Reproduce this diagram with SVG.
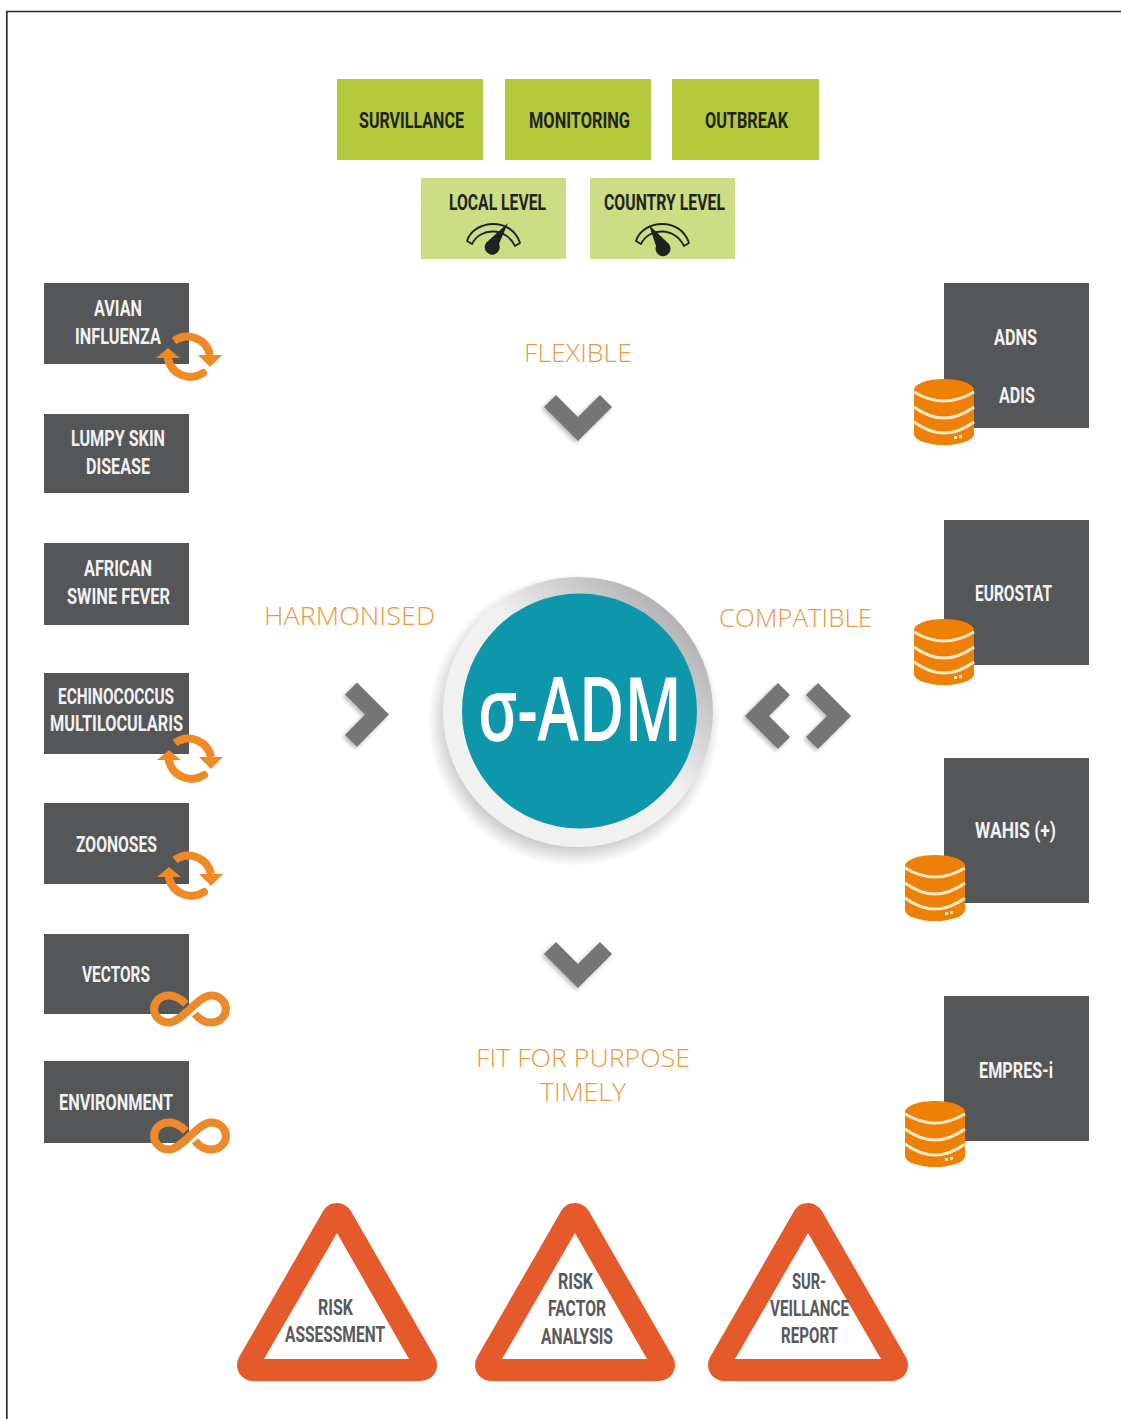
<svg xmlns="http://www.w3.org/2000/svg" width="1121" height="1419" viewBox="0 0 1121 1419">
<style>
.l{font-family:Roboto,"Liberation Sans",sans-serif;font-weight:700}
.k{fill:#1f2320;font-size:22px}
.w{fill:#f2f2f2;font-size:22px}
.g{fill:#58595b;font-size:22px}
.o{font-family:"Open Sans","Liberation Sans",sans-serif;font-weight:300;fill:#ec9a3e;font-size:26px}
.d{fill:#555658}.a{fill:#b4ca3c}.b{fill:#cddd85}
.tri{fill:#e55a2b;stroke:#e55a2b;stroke-width:32;stroke-linejoin:round}
.chev{fill:none;stroke:#757577;stroke-width:17;stroke-linejoin:miter}
</style>
<defs>
<radialGradient id="sh" cx="50%" cy="50%" r="50%"><stop offset="0.8" stop-color="#888" stop-opacity=".65"/><stop offset="1" stop-color="#888" stop-opacity="0"/></radialGradient>
<linearGradient id="ring" x1="0.15" y1="0.85" x2="0.85" y2="0.15"><stop offset="0.55" stop-color="#f1f1f2"/><stop offset="1" stop-color="#b4b4b6"/></linearGradient>
<filter id="soft" x="-30%" y="-30%" width="160%" height="160%"><feDropShadow dx="-2" dy="2" stdDeviation="2" flood-color="#000" flood-opacity=".28"/></filter>
<path id="gauge" d="M-27 0C-20-22 18-24 26 2L21 5C12-14-14-14-22 3Z" fill="none" stroke="#1f2320" stroke-width="1.8" stroke-linejoin="round"/>
<g id="refresh">
<path d="M-14-16A23 23 0 0 1 22-2" fill="none" stroke="#ef8a24" stroke-width="8"/>
<path d="M10-2L34-2L22 10Z" fill="#ef8a24"/>
<path d="M15 16A23 23 0 0 1-20 2" fill="none" stroke="#ef8a24" stroke-width="8" stroke-linecap="round"/>
<path d="M-32 1L-8 1L-20-9Z" fill="#ef8a24"/>
</g>
<path id="inf" d="M-4-5C-9-10-14-13.500-21-13.500C-30-13.500-36-7-36 0C-36 7-30 13.500-21 13.500C-8 13.500 8-13.500 21-13.500C30-13.500 36-7 36 0C36 7 30 13.500 21 13.500C14 13.500 9 10 5 5" fill="none" stroke="#ea8a2b" stroke-width="8"/>
<g id="db">
<path d="M0 11A30 11 0 0 1 60 11V55A30 11 0 0 1 0 55Z" fill="#ee8105"/>
<path d="M0 13Q30 31 60 13M0 28Q30 50 60 28M0 43Q30 65 60 43" fill="none" stroke="#fde9c8" stroke-width="3"/>
<path d="M40 57h3v3h-3zM45 56h3v3h-3z" fill="#fde9c8"/>
</g>
</defs>
<rect x="0" y="0" width="1121" height="1419" fill="#fff"/>
<path d="M6.800 1419V11.500H1121" fill="none" stroke="#2a2a2a" stroke-width="1.700"/>

<g id="surveillance"><rect class="a" x="337" y="79" width="146" height="81"/><text class="l k" x="359" y="128" textLength="105" lengthAdjust="spacingAndGlyphs">SURVILLANCE</text></g>
<g id="monitoring"><rect class="a" x="505" y="79" width="146" height="81"/><text class="l k" x="529" y="128" textLength="101" lengthAdjust="spacingAndGlyphs">MONITORING</text></g>
<g id="outbreak"><rect class="a" x="672" y="79" width="147" height="81"/><text class="l k" x="705" y="128" textLength="83" lengthAdjust="spacingAndGlyphs">OUTBREAK</text></g>
<g id="local-level"><rect class="b" x="421" y="178" width="145" height="81"/><text class="l k" x="449" y="210" textLength="97" lengthAdjust="spacingAndGlyphs">LOCAL LEVEL</text>
<use href="#gauge" x="494" y="241"/><path d="M508 223L499 244A7.500 7.500 0 1 1 488 241Z" fill="#1f2320"/></g>
<g id="country-level"><rect class="b" x="590" y="178" width="145" height="81"/><text class="l k" x="604" y="210" textLength="121" lengthAdjust="spacingAndGlyphs">COUNTRY LEVEL</text>
<use href="#gauge" x="663" y="241"/><path d="M649 225L668 243A7.500 7.500 0 1 1 656 246Z" fill="#1f2320"/></g>

<g id="avian-influenza"><rect class="d" x="44" y="283" width="145" height="81"/><text class="l w" x="94" y="316" textLength="48" lengthAdjust="spacingAndGlyphs">AVIAN</text><text class="l w" x="75" y="344" textLength="86" lengthAdjust="spacingAndGlyphs">INFLUENZA</text><use href="#refresh" x="188" y="357"/></g>
<g id="lumpy-skin-disease"><rect class="d" x="44" y="414" width="145" height="79"/><text class="l w" x="71" y="446" textLength="94" lengthAdjust="spacingAndGlyphs">LUMPY SKIN</text><text class="l w" x="86" y="474" textLength="64" lengthAdjust="spacingAndGlyphs">DISEASE</text></g>
<g id="african-swine-fever"><rect class="d" x="44" y="543" width="145" height="82"/><text class="l w" x="84" y="576" textLength="68" lengthAdjust="spacingAndGlyphs">AFRICAN</text><text class="l w" x="67" y="604" textLength="103" lengthAdjust="spacingAndGlyphs">SWINE FEVER</text></g>
<g id="echinococcus"><rect class="d" x="44" y="673" width="145" height="81"/><text class="l w" x="58" y="704" textLength="116" lengthAdjust="spacingAndGlyphs">ECHINOCOCCUS</text><text class="l w" x="50" y="731" textLength="133" lengthAdjust="spacingAndGlyphs">MULTILOCULARIS</text><use href="#refresh" x="189" y="759"/></g>
<g id="zoonoses"><rect class="d" x="44" y="803" width="145" height="81"/><text class="l w" x="76" y="852" textLength="81" lengthAdjust="spacingAndGlyphs">ZOONOSES</text><use href="#refresh" x="189" y="876"/></g>
<g id="vectors"><rect class="d" x="44" y="934" width="145" height="80"/><text class="l w" x="82" y="982" textLength="68" lengthAdjust="spacingAndGlyphs">VECTORS</text><use href="#inf" x="190" y="1009"/></g>
<g id="environment"><rect class="d" x="44" y="1061" width="145" height="82"/><text class="l w" x="59" y="1110" textLength="114" lengthAdjust="spacingAndGlyphs">ENVIRONMENT</text><use href="#inf" x="190" y="1136"/></g>

<g id="adns-adis"><rect class="d" x="944" y="283" width="145" height="145"/><text class="l w" x="994" y="345" textLength="43" lengthAdjust="spacingAndGlyphs">ADNS</text><text class="l w" x="999" y="403" textLength="36" lengthAdjust="spacingAndGlyphs">ADIS</text><use href="#db" x="914" y="379"/></g>
<g id="eurostat"><rect class="d" x="944" y="520" width="145" height="145"/><text class="l w" x="975" y="601" textLength="77" lengthAdjust="spacingAndGlyphs">EUROSTAT</text><use href="#db" x="914" y="619"/></g>
<g id="wahis"><rect class="d" x="944" y="758" width="145" height="145"/><text class="l w" x="975" y="838" textLength="81" lengthAdjust="spacingAndGlyphs">WAHIS (+)</text><use href="#db" x="905" y="855"/></g>
<g id="empres-i"><rect class="d" x="944" y="996" width="145" height="145"/><text class="l w" x="979" y="1078" textLength="74" lengthAdjust="spacingAndGlyphs">EMPRES-i</text><use href="#db" x="905" y="1101"/></g>

<g id="sigma-adm">
<circle cx="574" cy="720" r="146" fill="url(#sh)"/>
<circle cx="578" cy="712" r="135" fill="url(#ring)"/>
<circle cx="579.500" cy="711" r="117.500" fill="#0e96ab"/>
<text x="478" y="741" font-family="Open Sans, Liberation Sans, sans-serif" font-size="88" font-weight="600" fill="#fff" textLength="204" lengthAdjust="spacingAndGlyphs">σ-ADM</text>
</g>

<g id="label-flexible"><text class="o" x="524" y="362" textLength="108" lengthAdjust="spacingAndGlyphs">FLEXIBLE</text></g>
<g id="label-harmonised"><text class="o" x="264" y="625" textLength="171" lengthAdjust="spacingAndGlyphs">HARMONISED</text></g>
<g id="label-compatible"><text class="o" x="719" y="627" textLength="153" lengthAdjust="spacingAndGlyphs">COMPATIBLE</text></g>
<g id="label-fit"><text class="o" x="476" y="1067" textLength="214" lengthAdjust="spacingAndGlyphs">FIT FOR PURPOSE</text><text class="o" x="540" y="1101" textLength="86" lengthAdjust="spacingAndGlyphs">TIMELY</text></g>

<g id="connectors" filter="url(#soft)">
<path class="chev" d="M550 401L578 429L606 401"/>
<path class="chev" d="M550 948L578 976L606 948"/>
<path class="chev" d="M351 688.500L377 714.500L351 741"/>
<path class="chev" d="M784 689L757 716L784 743"/>
<path class="chev" d="M812 689L839 716L812 743"/>
</g>

<g id="risk-assessment"><path class="tri" d="M337 1219L421 1365H253Z"/><path d="M337 1233L409 1359H264Z" fill="#fff"/><text class="l g" x="318" y="1315" textLength="35" lengthAdjust="spacingAndGlyphs">RISK</text><text class="l g" x="285" y="1342" textLength="100" lengthAdjust="spacingAndGlyphs">ASSESSMENT</text></g>
<g id="risk-factor-analysis"><path class="tri" d="M575 1219L659 1365H491Z"/><path d="M575 1233L647 1359H502Z" fill="#fff"/><text class="l g" x="558" y="1289" textLength="35" lengthAdjust="spacingAndGlyphs">RISK</text><text class="l g" x="548" y="1316" textLength="58" lengthAdjust="spacingAndGlyphs">FACTOR</text><text class="l g" x="541" y="1344" textLength="72" lengthAdjust="spacingAndGlyphs">ANALYSIS</text></g>
<g id="surveillance-report"><path class="tri" d="M808 1219L892 1365H724Z"/><path d="M808 1233L881 1359H735Z" fill="#fff"/><text class="l g" x="792" y="1289" textLength="34" lengthAdjust="spacingAndGlyphs">SUR-</text><text class="l g" x="770" y="1316" textLength="79" lengthAdjust="spacingAndGlyphs">VEILLANCE</text><text class="l g" x="781" y="1343" textLength="57" lengthAdjust="spacingAndGlyphs">REPORT</text></g>
</svg>
